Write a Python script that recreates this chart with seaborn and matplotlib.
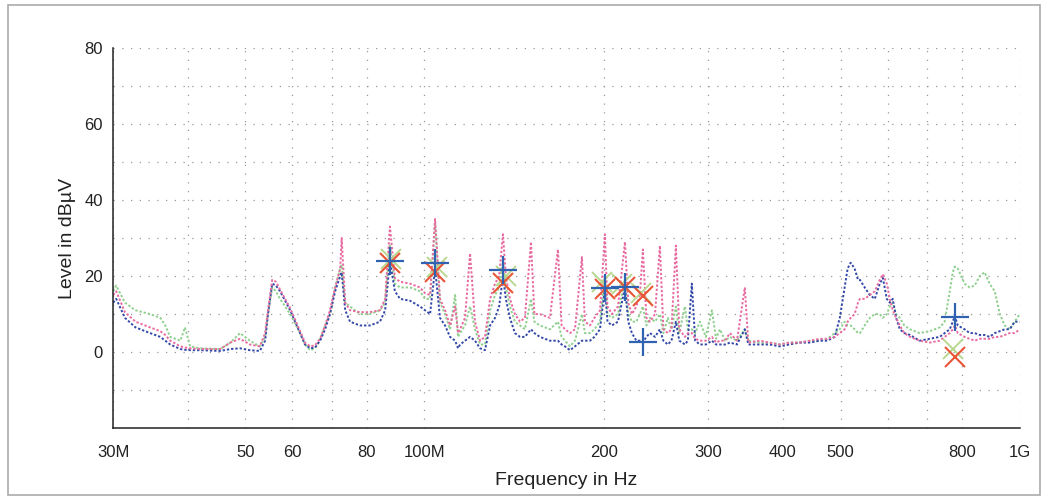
import numpy as np
import pandas as pd
import matplotlib
matplotlib.use("Agg")
import matplotlib.pyplot as plt
import seaborn as sns
from matplotlib.patches import Rectangle

# frequency grid in MHz, levels in dBuV for the three traces
freq = [30.0, 30.35, 31.4, 32.7, 34.6, 36.0, 36.7, 37.4, 38.9, 39.6, 40.4, 42.0, 45.4, 47.2, 49.0,
        50.9, 52.9, 54.0, 54.6, 55.5, 56.3, 57.2, 59.5, 61.8, 63.0, 64.3, 65.5, 66.8, 68.1, 69.4,
        70.8, 72.2, 72.6, 73.6, 75.0, 77.9, 81.0, 84.2, 85.9, 87.5, 89.2, 91.0, 94.6, 98.3, 100.2,
        102.2, 104.2, 106.2, 108.3, 110.4, 112.6, 113.9, 114.8, 117.0, 119.3, 121.6, 124.0, 126.4, 128.9,
        131.4, 133.5, 135.5, 137.0, 139.2, 141.9, 144.7, 147.5, 151.0, 153.0, 156.3, 162.5, 167.6, 170.0,
        172.2, 175.6, 179.0, 183.9, 186.0, 189.7, 193.0, 197.2, 201.0, 203.0, 206.5, 211.4, 217.2, 220.0,
        223.1, 227.0, 230.1, 232.8, 236.0, 239.2, 244.0, 248.6, 252.0, 256.4, 260.0, 264.5, 268.0, 273.9,
        277.0, 281.3, 285.0, 290.2, 297.0, 304.0, 309.0, 313.6, 320.0, 325.9, 335.0, 345.3, 350.0, 366.0,
        380.0, 395.5, 410.0, 427.0, 445.0, 461.0, 475.0, 489.0, 498.6, 508.0, 514.0, 520.0, 528.0, 535.0,
        539.0, 549.0, 560.0, 571.0, 582.0, 589.0, 598.0, 605.0, 612.0, 620.0, 629.0, 640.0, 654.0, 679.0,
        706.0, 734.0, 748.0, 763.0, 772.0, 778.0, 787.0, 808.0, 824.0, 840.0, 857.0, 873.0, 890.0, 908.0,
        926.0, 944.0, 962.0, 981.0, 1000.0]

blue = [13, 14, 9, 6.5, 5, 4, 3, 2, 0.8, 0.6, 0.5, 0.5, 0.3, 0.8, 1,
        0.5, 0.3, 3, 10, 18, 17.5, 16, 11, 5, 2, 1, 1.2, 3, 6, 10,
        16, 20, 21, 11, 8, 7, 7, 8, 11, 24, 16, 14, 13.5, 12, 11,
        10, 22, 9, 7, 4, 3, 1, 2, 3, 4, 3, 1, 0.5, 7,
        9, 12, 20, 14, 9, 5, 4, 4, 6, 5, 4, 3, 3, 2,
        1.5, 0.5, 1.5, 3, 3, 3, 4, 6, 17, 8, 7, 8, 17, 8,
        5, 3, 3, 2.6, 4, 5, 4, 6, 3, 2, 3, 8, 3, 2,
        3, 18, 3, 2, 2, 3, 2, 2, 2, 2.5, 2, 6, 2, 2,
        2, 1.5, 2, 2.5, 2.5, 3, 3, 4, 9, 17, 22, 23.5, 22, 19,
        19, 17, 15, 14, 18, 19.5, 14, 13, 14, 9, 6, 5, 4.5, 3,
        3.5, 4, 5, 6, 8, 9.5, 7, 6, 5, 5, 4.5, 4.5, 4, 5,
        5.5, 6, 6, 8, 8]

pink = [15, 16, 10.5, 8, 6.5, 5.5, 4.5, 3, 1.5, 1.2, 1, 0.8, 0.8, 2.5, 3.5,
        2, 1.5, 5, 11, 19, 18.5, 16.5, 11.5, 5.5, 2.5, 1.5, 1.8, 3.5, 7, 11,
        17, 22, 30, 13, 11, 10.5, 10.5, 11, 14, 33, 19.5, 18.5, 18, 17, 15.5,
        15, 35, 14, 11, 7, 12, 5, 6, 9, 26, 8, 3, 4, 14,
        18, 20, 31, 20, 14, 10, 8, 9, 29, 10, 10, 9, 27, 7,
        6, 5, 6, 25, 8, 7, 9, 11, 31, 12, 10, 12, 29, 13,
        10, 12, 15, 27, 9, 8, 10, 28, 6, 5, 6, 28, 6, 4,
        5, 5, 3.5, 3, 3, 4, 2.5, 3, 3, 5, 3, 17, 2.5, 3,
        2.5, 2, 2.5, 2.5, 3, 3.5, 3.5, 4, 5, 6, 8, 9, 10, 13,
        14, 14, 15, 16, 19, 20.5, 18, 14, 11, 9, 7, 5, 4, 3,
        2.5, 3, 4, 5, 6, 7, 5, 4, 3.5, 3, 3.5, 3.5, 3.5, 4,
        4, 4.5, 5, 5, 6]

green = [16, 17.5, 13, 11, 10, 9, 7, 4, 3, 6.5, 1.5, 1, 0.8, 2.5, 5,
         3, 1.5, 4, 10, 17, 16, 14, 10, 5, 2, 0.5, 1, 3.5, 7, 10,
         17, 22, 23, 13, 12, 10, 10, 11, 13, 28, 18, 17, 17, 16, 14,
         14, 34, 13, 10, 6, 15, 4, 5, 7, 12, 6, 2, 2, 11,
         15, 17, 24, 17, 12, 8, 7, 6, 14, 8, 7, 6, 8, 4,
         3, 1.5, 3, 10, 5, 5, 6, 8, 20, 10, 9, 10, 19, 10,
         8, 8, 10, 12, 7, 9, 8, 10, 5, 9, 6, 12, 5, 12,
         6, 6, 5, 8, 4, 11, 3.5, 6, 3, 4, 3, 6, 3, 2.5,
         2.5, 2, 2.5, 2.5, 3, 3, 3.5, 5, 6, 8, 7, 7, 6, 5,
         5, 7, 9, 10, 10, 9, 10, 12, 13, 10, 9, 7, 6, 5,
         5.5, 6.5, 8, 16, 21, 22.5, 22, 18, 17, 17.5, 20, 21, 18, 16,
         10, 7, 6, 8, 10]

# final measurement markers
plus_f = [87.5, 104.2, 135.5, 201.0, 217.2, 232.8, 778.0]
plus_lvl = [24.0, 23.5, 21.6, 16.8, 17.0, 2.6, 9.2]
cross_f = [87.5, 104.2, 135.5, 201.0, 217.2, 232.8, 778.0]
cross_lvl = [23.5, 21.0, 18.2, 16.5, 17.0, 14.7, -1.3]
gcross_f = [88.0, 105.0, 137.0, 199.0, 215.0, 231.0, 772.0]
gcross_lvl = [24.5, 22.5, 20.0, 18.5, 18.0, 15.5, 0.8]

xticks = [30, 40, 50, 60, 70, 80, 100, 200, 300, 400, 500, 600, 700, 800, 1000]
xtick_labels = ["30M", "", "50", "60", "", "80", "100M", "200", "300", "400", "500", "", "", "800", "1G"]

df = pd.DataFrame({
    "freq": freq * 3,
    "level": blue + pink + green,
    "trace": ["blue"] * len(freq) + ["pink"] * len(freq) + ["green"] * len(freq),
})

sns.set_style("white")
plt.rcParams["font.family"] = ["Liberation Sans", "DejaVu Sans"]

fig = plt.figure(figsize=(10.48, 4.99), dpi=100)
ax = fig.add_axes([0.108, 0.142, 0.865, 0.762])

palette = {"green": "#8fd08f", "blue": "#3448a8", "pink": "#e86aa0"}
for name in ["green", "blue", "pink"]:
    sns.lineplot(data=df[df.trace == name], x="freq", y="level", ax=ax, color=palette[name],
                 linewidth=1.4, linestyle=(0, (1.2, 1.0)),
                 sort=False, estimator=None, legend=False)

ax.plot(gcross_f, gcross_lvl, "x", color="#b8d890", markersize=15, mew=1.4, zorder=4)
ax.plot(cross_f, cross_lvl, "x", color="#e85535", markersize=15, mew=1.5, zorder=5)
ax.plot(plus_f, plus_lvl, "+", color="#2f62b0", markersize=20, mew=1.6, zorder=6)

ax.set_xscale("log")
ax.set_xlim(30, 1000)
ax.set_ylim(-20, 80)
ax.set_xticks(xticks)
ax.set_xticklabels(xtick_labels)
ax.xaxis.set_minor_locator(matplotlib.ticker.NullLocator())
ax.set_yticks([0, 20, 40, 60, 80])
ax.set_yticks([-10, 10, 30, 50, 70], minor=True)

ax.grid(True, which="both", axis="y", color="#999999", linestyle=(0, (1, 6)), linewidth=0.9)
ax.grid(True, which="major", axis="x", color="#999999", linestyle=(0, (1, 6)), linewidth=0.9)

for s in ["top", "right"]:
    ax.spines[s].set_visible(False)
for s in ["left", "bottom"]:
    ax.spines[s].set_color("#222222")
    ax.spines[s].set_linewidth(1.1)

ax.tick_params(axis="y", which="both", direction="inout", length=9, width=1, colors="#222222",
               labelsize=12, pad=3)
ax.tick_params(axis="x", which="major", direction="in", length=7, width=1, colors="#222222",
               labelsize=12, pad=12)

ax.set_xlabel("Frequency in Hz", fontsize=14, color="#222222", labelpad=9)
ax.set_ylabel("Level in dBµV", fontsize=14, color="#222222", labelpad=6)

fig.patches.append(Rectangle((0.008, 0.008), 0.984, 0.982, transform=fig.transFigure,
                             fill=False, edgecolor="#aaaaaa", linewidth=1.2))

fig.savefig("out.png", dpi=100)
